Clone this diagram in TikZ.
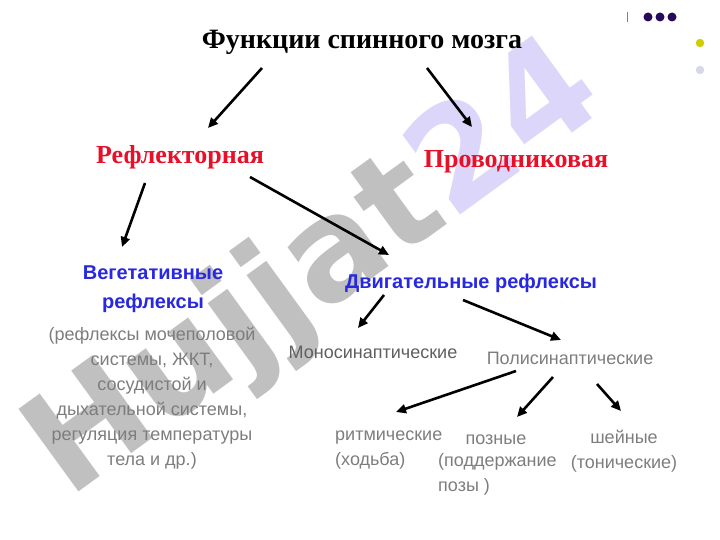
\documentclass[tikz,border=0pt]{standalone}
\usepackage{fontspec}
\setmainfont{Liberation Serif}
\newfontfamily\arialf{Liberation Sans}
\newfontfamily\wmfont{DejaVu Sans}
\usetikzlibrary{arrows.meta}
\definecolor{redt}{RGB}{232,16,40}
\definecolor{bluet}{RGB}{40,40,225}
\definecolor{grayt}{RGB}{125,125,125}
\definecolor{graydk}{RGB}{95,95,95}
\definecolor{wmgray}{RGB}{192,192,192}
\definecolor{wmlav}{RGB}{220,214,250}
\definecolor{dotpurple}{RGB}{40,10,90}
\definecolor{dotyellow}{RGB}{205,205,0}
\definecolor{dotlav}{RGB}{215,215,235}
\begin{document}
\begin{tikzpicture}[x=1pt,y=-1pt,
  lbl/.style={inner sep=0pt},
  titlet/.style={lbl,font=\fontsize{28}{30}\selectfont\bfseries},
  redl/.style={lbl,text=redt,font=\fontsize{26}{28}\selectfont\bfseries},
  bluel/.style={lbl,text=bluet,font=\arialf\bfseries\fontsize{20}{29}\selectfont,align=center},
  grayl/.style={lbl,text=grayt,font=\arialf\fontsize{18}{25}\selectfont},
  arr/.style={line width=2.6pt,-{Triangle[length=10pt,width=9pt]}}
]
\useasboundingbox (0,0) rectangle (720,540);
% watermark
\node[inner sep=0pt,anchor=base west,rotate=36,font=\wmfont\bfseries\fontsize{140}{140}\selectfont]
  (wm) at (68,500) {\textcolor{wmgray}{Hujjat}\textcolor{wmlav}{24}};
% decorations
\draw[gray,line width=0.8pt] (627,12) -- (627,22);
\foreach \xx in {648,660,672} \fill[dotpurple] (\xx,17) circle (4.5);
\fill[dotyellow] (700,43) circle (4.2);
\fill[dotlav] (700,70) circle (4.2);
% nodes
\node[titlet] (t) at (362,42) {Функции спинного мозга};
\node[redl] (refl) at (180,157) {Рефлекторная};
\node[redl] (prov) at (516,162) {Проводниковая};
\node[bluel] (veg) at (153,289) {Вегетативные\\рефлексы};
\node[grayl,align=center] (vegd) at (152,398) {(рефлексы мочеполовой\\системы, ЖКТ,\\сосудистой и\\дыхательной системы,\\регуляция температуры\\тела и др.)};
\node[bluel] (dvig) at (471,283) {Двигательные рефлексы};
\node[grayl,text=graydk] (mono) at (373,352) {Моносинаптические};
\node[grayl] (poli) at (570,358) {Полисинаптические};
\node[grayl,align=left,anchor=north west] (ritm) at (335,431) {ритмические\\(ходьба)};
\node[grayl] (pozn) at (496,440) {позные};
\node[grayl,align=left,anchor=north west] (pozd) at (438,453) {(поддержание\\позы )};
\node[grayl,align=center] (shey) at (624,451) {шейные\\(тонические)};
% arrow endpoints
\coordinate (a1s) at (262,68);  \coordinate (a1e) at (208,128);
\coordinate (a2s) at (427,68);  \coordinate (a2e) at (472,127);
\coordinate (a3s) at (145,183); \coordinate (a3e) at (122,247);
\coordinate (a4s) at (250,177); \coordinate (a4e) at (389,255);
\coordinate (a5s) at (384,295); \coordinate (a5e) at (358,328);
\coordinate (a6s) at (463,300); \coordinate (a6e) at (561,340);
\coordinate (a7s) at (516,371); \coordinate (a7e) at (396,412);
\coordinate (a8s) at (553,377); \coordinate (a8e) at (517,417);
\coordinate (a9s) at (597,384); \coordinate (a9e) at (621,411);
\foreach \i in {1,...,9} \draw[arr] (a\i s) -- (a\i e);
\end{tikzpicture}
\end{document}
